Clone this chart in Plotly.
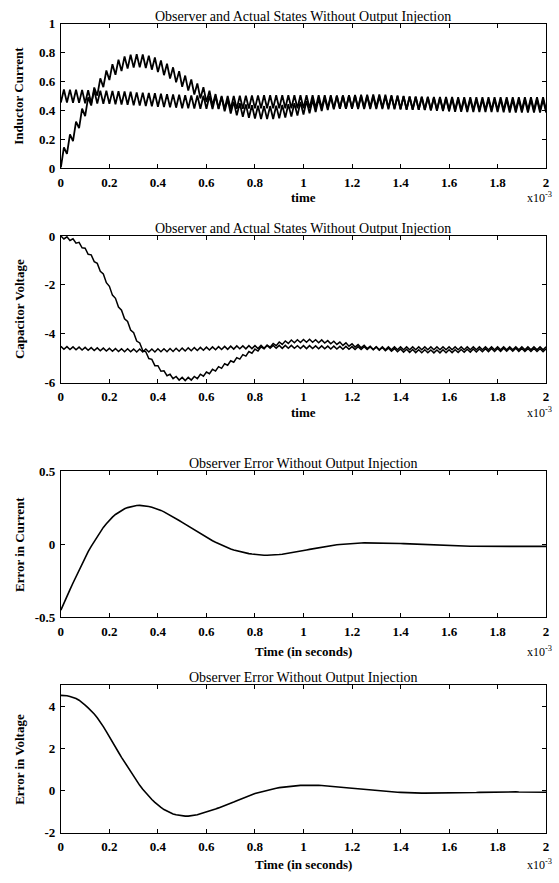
import plotly.graph_objects as go

W, H = 559, 883

# ---------------- data (time in units of 1e-3 s) ----------------
# half-period sample grid of the switching ripple
t_ms = [round(0.0125 * k, 4) for k in range(161)]

# observer inductor current: troughs (even samples) and peaks (odd samples)
obs_i_trough = [0.455, 0.454, 0.453, 0.452, 0.450, 0.449, 0.447, 0.446, 0.445, 0.443,
                0.441, 0.439, 0.435, 0.433, 0.431, 0.429, 0.425, 0.423, 0.421, 0.419,
                0.415, 0.414, 0.413, 0.412, 0.411, 0.410, 0.410, 0.410, 0.410, 0.411,
                0.412, 0.413, 0.414, 0.415, 0.415, 0.415, 0.415, 0.415, 0.415, 0.415,
                0.415, 0.415, 0.415, 0.415, 0.415, 0.414, 0.413, 0.412, 0.411, 0.410,
                0.410, 0.410, 0.410, 0.409, 0.408, 0.407, 0.406, 0.405, 0.405, 0.405,
                0.405, 0.404, 0.404, 0.403, 0.403, 0.402, 0.402, 0.402, 0.402, 0.402,
                0.402, 0.402, 0.402, 0.401, 0.401, 0.401, 0.401, 0.401, 0.401, 0.401,
                0.401]
obs_i_peak = [0.545, 0.544, 0.543, 0.542, 0.540, 0.539, 0.537, 0.536, 0.535, 0.533,
              0.531, 0.529, 0.525, 0.523, 0.521, 0.519, 0.515, 0.513, 0.511, 0.509,
              0.505, 0.504, 0.503, 0.502, 0.501, 0.500, 0.500, 0.500, 0.500, 0.501,
              0.502, 0.503, 0.504, 0.505, 0.505, 0.505, 0.505, 0.505, 0.505, 0.505,
              0.505, 0.505, 0.505, 0.505, 0.505, 0.504, 0.503, 0.502, 0.501, 0.500,
              0.500, 0.500, 0.500, 0.499, 0.498, 0.497, 0.496, 0.495, 0.495, 0.495,
              0.495, 0.494, 0.494, 0.493, 0.493, 0.492, 0.492, 0.492, 0.492, 0.492,
              0.492, 0.492, 0.492, 0.491, 0.491, 0.491, 0.491, 0.491, 0.491, 0.491]

# observer capacitor voltage: highs (even samples) and lows (odd samples)
obs_v_high = [-4.52, -4.53, -4.54, -4.55, -4.56, -4.57, -4.58, -4.59, -4.60, -4.61,
              -4.62, -4.62, -4.63, -4.63, -4.63, -4.63, -4.62, -4.62, -4.61, -4.60,
              -4.59, -4.58, -4.57, -4.56, -4.55, -4.54, -4.53, -4.52, -4.51, -4.50,
              -4.50, -4.49, -4.49, -4.48, -4.48, -4.48, -4.48, -4.48, -4.48, -4.49,
              -4.49, -4.49, -4.50, -4.50, -4.51, -4.51, -4.52, -4.52, -4.53, -4.53,
              -4.53, -4.54, -4.54, -4.54, -4.54, -4.54, -4.54, -4.54, -4.54, -4.54,
              -4.54, -4.54, -4.54, -4.54, -4.54, -4.54, -4.54, -4.54, -4.54, -4.54,
              -4.54, -4.54, -4.54, -4.54, -4.54, -4.54, -4.54, -4.54, -4.54, -4.54,
              -4.54]
obs_v_low = [-4.64, -4.65, -4.66, -4.67, -4.68, -4.69, -4.70, -4.71, -4.72, -4.73,
             -4.74, -4.74, -4.75, -4.75, -4.75, -4.75, -4.74, -4.74, -4.73, -4.72,
             -4.71, -4.70, -4.69, -4.68, -4.67, -4.66, -4.65, -4.64, -4.63, -4.62,
             -4.62, -4.61, -4.61, -4.60, -4.60, -4.60, -4.60, -4.60, -4.60, -4.61,
             -4.61, -4.61, -4.62, -4.62, -4.63, -4.63, -4.64, -4.64, -4.65, -4.65,
             -4.65, -4.66, -4.66, -4.66, -4.66, -4.66, -4.66, -4.66, -4.66, -4.66,
             -4.66, -4.66, -4.66, -4.66, -4.66, -4.66, -4.66, -4.66, -4.66, -4.66,
             -4.66, -4.66, -4.66, -4.66, -4.66, -4.66, -4.66, -4.66, -4.66, -4.66]

# observer error (actual - observer), same grid
err_i = [-0.450, -0.400, -0.355, -0.310, -0.265, -0.220, -0.175, -0.130, -0.090, -0.050,
         -0.015, 0.020, 0.055, 0.085, 0.115, 0.140, 0.165, 0.185, 0.203, 0.218,
         0.231, 0.242, 0.250, 0.256, 0.261, 0.264, 0.265, 0.264, 0.262, 0.258,
         0.253, 0.247, 0.240, 0.231, 0.221, 0.210, 0.199, 0.187, 0.175, 0.162,
         0.149, 0.136, 0.123, 0.110, 0.097, 0.084, 0.071, 0.059, 0.047, 0.035,
         0.024, 0.013, 0.003, -0.007, -0.016, -0.024, -0.032, -0.039, -0.045, -0.051,
         -0.056, -0.060, -0.064, -0.067, -0.070, -0.072, -0.074, -0.075, -0.075, -0.075,
         -0.074, -0.072, -0.070, -0.068, -0.065, -0.062, -0.058, -0.055, -0.051, -0.047,
         -0.043, -0.039, -0.035, -0.031, -0.027, -0.023, -0.020, -0.016, -0.013, -0.010,
         -0.007, -0.004, -0.002, 0.000, 0.002, 0.004, 0.005, 0.006, 0.007, 0.008,
         0.009, 0.009, 0.010, 0.010, 0.010, 0.010, 0.010, 0.009, 0.009, 0.008,
         0.007, 0.006, 0.005, 0.004, 0.003, 0.002, 0.001, 0.000, -0.001, -0.002,
         -0.003, -0.004, -0.005, -0.006, -0.007, -0.008, -0.008, -0.009, -0.010, -0.011,
         -0.011, -0.012, -0.012, -0.013, -0.013, -0.014, -0.014, -0.014, -0.014, -0.014,
         -0.014, -0.014, -0.014, -0.014, -0.014, -0.014, -0.014, -0.014, -0.015, -0.015,
         -0.015, -0.015, -0.015, -0.015, -0.015, -0.015, -0.015, -0.015, -0.015, -0.015,
         -0.015]
err_v = [4.52, 4.52, 4.50, 4.47, 4.43, 4.37, 4.29, 4.19, 4.06, 3.93,
         3.80, 3.64, 3.46, 3.26, 3.04, 2.80, 2.54, 2.30, 2.06, 1.82,
         1.58, 1.35, 1.12, 0.89, 0.67, 0.45, 0.25, 0.06, -0.11, -0.27,
         -0.42, -0.56, -0.69, -0.80, -0.90, -0.98, -1.05, -1.11, -1.15, -1.18,
         -1.20, -1.21, -1.21, -1.20, -1.18, -1.15, -1.10, -1.06, -1.02, -0.97,
         -0.92, -0.87, -0.82, -0.77, -0.71, -0.65, -0.60, -0.54, -0.48, -0.42,
         -0.36, -0.30, -0.24, -0.19, -0.14, -0.10, -0.06, -0.02, 0.01, 0.05,
         0.08, 0.11, 0.14, 0.16, 0.18, 0.20, 0.22, 0.23, 0.24, 0.25,
         0.255, 0.26, 0.26, 0.26, 0.255, 0.25, 0.245, 0.235, 0.225, 0.215,
         0.20, 0.19, 0.175, 0.16, 0.145, 0.13, 0.115, 0.10, 0.085, 0.07,
         0.055, 0.04, 0.025, 0.01, 0.00, -0.015, -0.025, -0.04, -0.05, -0.06,
         -0.07, -0.08, -0.085, -0.095, -0.10, -0.105, -0.11, -0.115, -0.115, -0.12,
         -0.12, -0.12, -0.125, -0.125, -0.125, -0.125, -0.12, -0.12, -0.12, -0.115,
         -0.115, -0.11, -0.105, -0.10, -0.10, -0.095, -0.09, -0.09, -0.085, -0.08,
         -0.08, -0.075, -0.07, -0.07, -0.065, -0.065, -0.06, -0.06, -0.06, -0.06,
         -0.06, -0.065, -0.065, -0.065, -0.07, -0.07, -0.07, -0.07, -0.075, -0.075,
         -0.075]

x_ticks = [0, 0.2, 0.4, 0.6, 0.8, 1, 1.2, 1.4, 1.6, 1.8, 2]
x_tick_labels = ["0", "0.2", "0.4", "0.6", "0.8", "1", "1.2", "1.4", "1.6", "1.8", "2"]
y1_ticks, y1_labels = [0, 0.2, 0.4, 0.6, 0.8, 1], ["0", "0.2", "0.4", "0.6", "0.8", "1"]
y2_ticks, y2_labels = [-6, -4, -2, 0], ["-6", "-4", "-2", "0"]
y3_ticks, y3_labels = [-0.5, 0, 0.5], ["-0.5", "0", "0.5"]
y4_ticks, y4_labels = [-2, 0, 2, 4], ["-2", "0", "2", "4"]

titles = ["Observer and Actual States Without Output Injection",
          "Observer and Actual States Without Output Injection",
          "Observer Error Without Output Injection",
          "Observer Error Without Output Injection"]
ylabels = ["Inductor Current", "Capacitor Voltage", "Error in Current", "Error in Voltage"]
xlabels = ["time", "time", "Time (in seconds)", "Time (in seconds)"]

# ---------------- assemble series ----------------
def interleave(a, b):
    out = []
    for j in range(len(a)):
        out.append(a[j])
        if j < len(b):
            out.append(b[j])
    return out

obs_i = interleave(obs_i_trough, obs_i_peak)
obs_v = interleave(obs_v_high, obs_v_low)
act_i = [o + e for o, e in zip(obs_i, err_i)]
act_v = [o + e for o, e in zip(obs_v, err_v)]

# ---------------- layout geometry (pixels) ----------------
X0, X1 = 58.5, 549
panels = [(17, 164), (233, 382), (472, 621), (690, 840)]
xlab_y = [194, 413, 656, 872]
yranges = [[0, 1], [-6, 0], [-0.5, 0.5], [-2, 5]]
yticks = [(y1_ticks, y1_labels), (y2_ticks, y2_labels), (y3_ticks, y3_labels), (y4_ticks, y4_labels)]

FONT = "Liberation Serif"

def px(x):
    return x / W

def py(y):
    return 1 - y / H

fig = go.Figure()
series = [[obs_i, act_i], [obs_v, act_v], [err_i], [err_v]]
widths = [1.8, 1.5, 1.6, 1.6]
for i, group in enumerate(series):
    n = "" if i == 0 else str(i + 1)
    for s in group:
        fig.add_trace(go.Scatter(x=t_ms, y=s, mode="lines",
                                 line=dict(color="black", width=widths[i]),
                                 xaxis="x" + n, yaxis="y" + n,
                                 showlegend=False, hoverinfo="skip"))

layout = dict(width=W, height=H, margin=dict(l=0, r=0, t=0, b=0), autosize=False,
              paper_bgcolor="white", plot_bgcolor="white", showlegend=False)
annotations = []
for i, (top, bot) in enumerate(panels):
    n = "" if i == 0 else str(i + 1)
    common = dict(showline=True, linecolor="black", linewidth=1, mirror="ticks",
                  ticks="inside", ticklen=4, tickwidth=1, tickcolor="black",
                  showgrid=False, zeroline=False,
                  tickfont=dict(family=FONT, size=13, color="black", weight="bold"))
    layout["xaxis" + n] = dict(domain=[px(X0), px(X1)], anchor="y" + n, range=[0, 2],
                               tickmode="array", tickvals=x_ticks, ticktext=x_tick_labels,
                               ticklabelstandoff=2, **common)
    tv, tt = yticks[i]
    layout["yaxis" + n] = dict(domain=[py(bot), py(top)], anchor="x" + n, range=yranges[i],
                               tickmode="array", tickvals=tv, ticktext=tt,
                               ticklabelstandoff=2, **common)
    annotations.append(dict(text=titles[i], x=px((X0 + X1) / 2), y=py(top), xref="paper", yref="paper",
                            xanchor="center", yanchor="bottom", yshift=-2, showarrow=False,
                            font=dict(family=FONT, size=14, color="black")))
    annotations.append(dict(text=ylabels[i], x=px(16), y=py((top + bot) / 2), xref="paper", yref="paper",
                            xanchor="center", yanchor="middle", textangle=-90, showarrow=False,
                            font=dict(family=FONT, size=13, color="black", weight="bold")))
    annotations.append(dict(text=xlabels[i], x=px((X0 + X1) / 2), y=py(xlab_y[i]), xref="paper", yref="paper",
                            xanchor="center", yanchor="middle", showarrow=False,
                            font=dict(family=FONT, size=13, color="black", weight="bold")))
    annotations.append(dict(text="x10<sup>-3</sup>", x=px(557), y=py(xlab_y[i]), xref="paper", yref="paper",
                            xanchor="right", yanchor="middle", showarrow=False,
                            font=dict(family=FONT, size=12, color="black")))
layout["annotations"] = annotations
fig.update_layout(**layout)
fig.write_html("out.html", config={"displayModeBar": False, "staticPlot": True},
               post_script="document.body.style.margin='0';document.body.style.overflow='hidden';")
